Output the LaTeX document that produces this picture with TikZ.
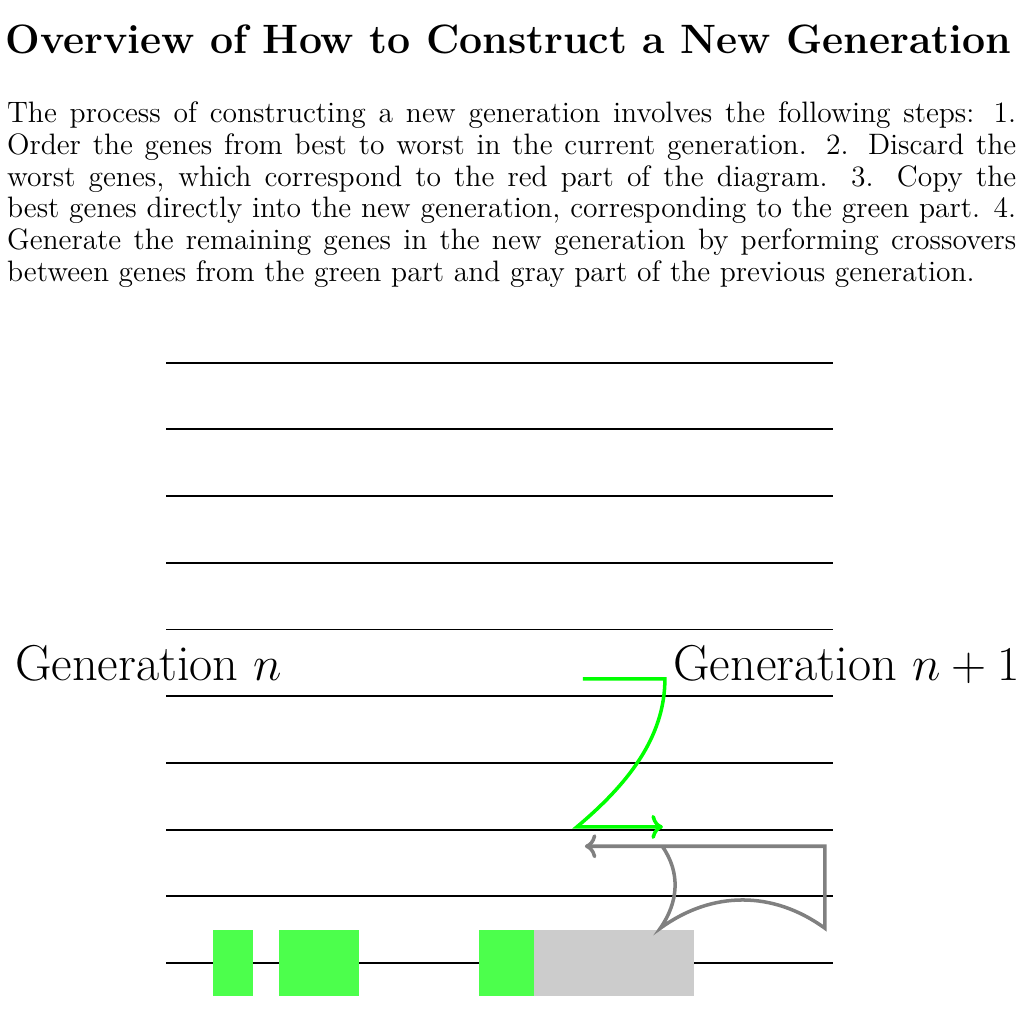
\documentclass[tikz,border=0pt]{standalone}
\usepackage{amsmath,amssymb}
\usepackage{xcolor}
\usetikzlibrary{arrows.meta,positioning,calc}

\begin{document}
\begin{tikzpicture}[
  every node/.style={inner sep=0pt},
  heading/.style={font=\fontsize{17.5}{21}\selectfont\bfseries,anchor=base west},
  para/.style={font=\fontsize{12.6}{13.55}\selectfont,text width=15.13cm,align=justify,anchor=base west},
  gen/.style={font=\fontsize{21.5}{26}\selectfont,anchor=base west},
  row/.style={thick},
  keep/.style={fill=green!70},
  pool/.style={fill=gray!40},
  copyarr/.style={->,line width=1.5pt,green},
  crossarr/.style={->,line width=1.5pt,gray}
]
\useasboundingbox (-2.489,-0.915) rectangle (12.864,14.438);

\node[heading] (title) at (-2.41,13.64) {Overview of How to Construct a New Generation};
\node[para] (steps) at (-2.39,12.6) {The process of constructing a new generation involves the following steps: 1. Order the genes from best to worst in the current generation. 2. Discard the worst genes, which correspond to the red part of the diagram. 3. Copy the best genes directly into the new generation, corresponding to the green part. 4. Generate the remaining genes in the new generation by performing crossovers between genes from the green part and gray part of the previous generation.};

% one line per gene
\foreach \i in {0,...,9}
  \draw[row] (0,\i) -- (10,\i);

\node[gen] (gen-n) at (-2.27,4.24) {Generation $n$};
\node[gen] (gen-next) at (7.60,4.24) {Generation $n+1$};

% green and gray parts
\fill[keep] (0.7,-0.5) rectangle (1.3,0.5);
\fill[keep] (1.7,-0.5) rectangle (2.9,0.5);
\fill[keep] (4.7,-0.5) rectangle (5.52,0.5);
\fill[pool] (5.52,-0.5) rectangle (7.92,0.5);

% copy arrow
\coordinate (copy-a) at (6.25,4.26);
\coordinate (copy-b) at (7.48,4.26);
\coordinate (copy-c) at (6.16,2.04);
\coordinate (copy-d) at (7.45,2.04);
\draw[copyarr] (copy-a) -- (copy-b) to[out=-90,in=40,out looseness=0.88,in looseness=0.96] (copy-c) -- (copy-d);

% crossover arrow
\coordinate (cross-a) at (7.44,1.75);
\coordinate (cross-b) at (7.41,0.52);
\coordinate (cross-c) at (9.88,0.52);
\coordinate (cross-d) at (9.88,1.75);
\coordinate (cross-e) at (6.28,1.75);
\draw[crossarr] (cross-a) to[out=-55,in=55] (cross-b) to[out=36,in=144] (cross-c) -- (cross-d) -- (cross-e);
\end{tikzpicture}
\end{document}
